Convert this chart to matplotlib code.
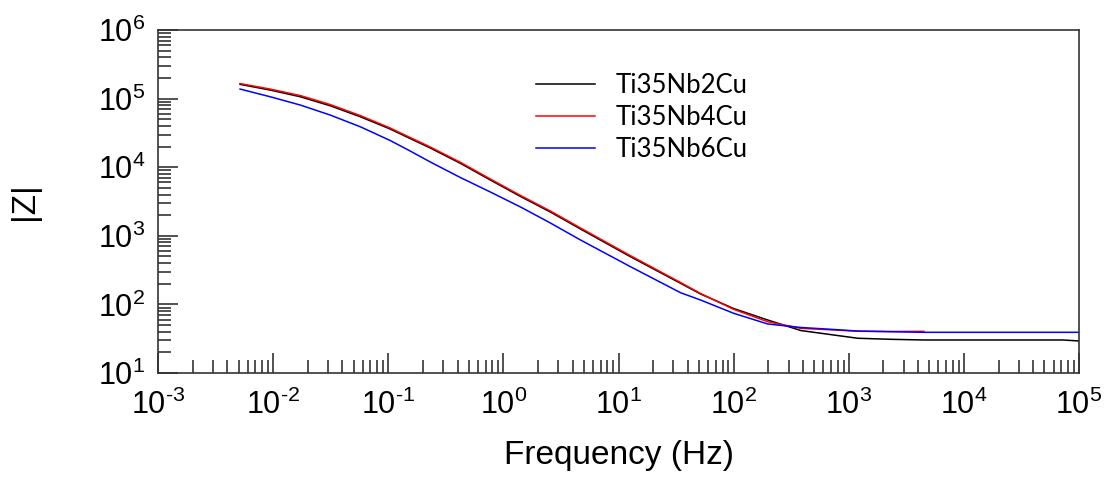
import numpy as np
import matplotlib.pyplot as plt
from matplotlib.ticker import LogLocator, NullFormatter, FuncFormatter

plt.rcParams['font.family'] = ['Liberation Sans', 'DejaVu Sans']
plt.rcParams['mathtext.fontset'] = 'custom'
plt.rcParams['mathtext.rm'] = 'Liberation Sans'
plt.rcParams['mathtext.it'] = 'Liberation Sans'

# frequency points (Hz)
freq = [5.16e-3, 9.42e-3, 0.0172, 0.0313, 0.0571, 0.104, 0.155, 0.232, 0.423,
        0.771, 1.41, 2.56, 4.68, 12.7, 34.6, 51.6, 100, 198, 383, 741, 1197,
        2317, 4487, 72600, 1e5]

# |Z| (ohm) for each alloy
z_2cu = [161600, 133500, 106600, 78800, 54500, 36060, 26210, 19050, 11400,
         6508, 3741, 2223, 1256, 495.8, 203.0, 141.8, 87.1, 59.2, 41.6, 35.8,
         32.1, 31.0, 30.3, 30.3, 29.3]
z_4cu = [166000, 138000, 111000, 82040, 56710, 37280, 27090, 19700, 11790,
         6730, 3869, 2299, 1299, 512.8, 208.5, 144.2, 84.8, 55.9, 44.8, 42.4,
         40.6, 40.3, 40.5]
z_6cu = [138000, 106600, 80690, 57670, 38940, 24500, 17230, 11910, 7077,
         4350, 2629, 1537, 868.6, 354.5, 148.0, 115.9, 74.2, 51.8, 46.1, 43.1,
         40.9, 40.0, 39.2, 39.2, 39.2]

labels = ['Ti35Nb2Cu', 'Ti35Nb4Cu', 'Ti35Nb6Cu']
colors = ['black', 'red', 'blue']


def pow_label(v, pos):
    e = int(round(np.log10(v)))
    s = str(e).replace('-', '\u2010')
    return r'$\mathdefault{10^{%s}}$' % s


fig = plt.figure(figsize=(11.13, 4.93), dpi=100)
ax = fig.add_axes([0.142, 0.2434, 0.8275, 0.6956])

for z, lab, c in zip([z_2cu, z_4cu, z_6cu], labels, colors):
    ax.plot(freq[:len(z)], z, color=c, lw=1.1, label=lab)

ax.set_xscale('log')
ax.set_yscale('log')
ax.set_xlim(1e-3, 1e5)
ax.set_ylim(1e1, 1e6)

for axis in (ax.xaxis, ax.yaxis):
    axis.set_major_locator(LogLocator(base=10, numticks=20))
    axis.set_major_formatter(FuncFormatter(pow_label))
    axis.set_minor_locator(LogLocator(base=10, subs=np.arange(2, 10), numticks=100))
    axis.set_minor_formatter(NullFormatter())

ax.tick_params(which='both', direction='in', top=False, right=False, width=1.1, color='#222222')
ax.tick_params(which='major', length=14.5, labelsize=22)
ax.tick_params(axis='x', which='major', pad=12)
ax.tick_params(axis='y', which='major', pad=9)
ax.tick_params(which='minor', length=9.5)

for s in ax.spines.values():
    s.set_linewidth(1.2)
    s.set_color('#333333')

ax.set_xlabel('Frequency (Hz)', fontsize=24, labelpad=14)
ax.set_ylabel('|Z|', fontsize=24, labelpad=42)

ax.legend(loc='upper left', bbox_to_anchor=(0.41, 0.874), frameon=False,
          prop={'family': 'Lato', 'size': 18.5}, handlelength=2.3,
          handletextpad=0.8, labelspacing=0.27, borderpad=0, borderaxespad=0)

fig.savefig('out.png', dpi=100)
